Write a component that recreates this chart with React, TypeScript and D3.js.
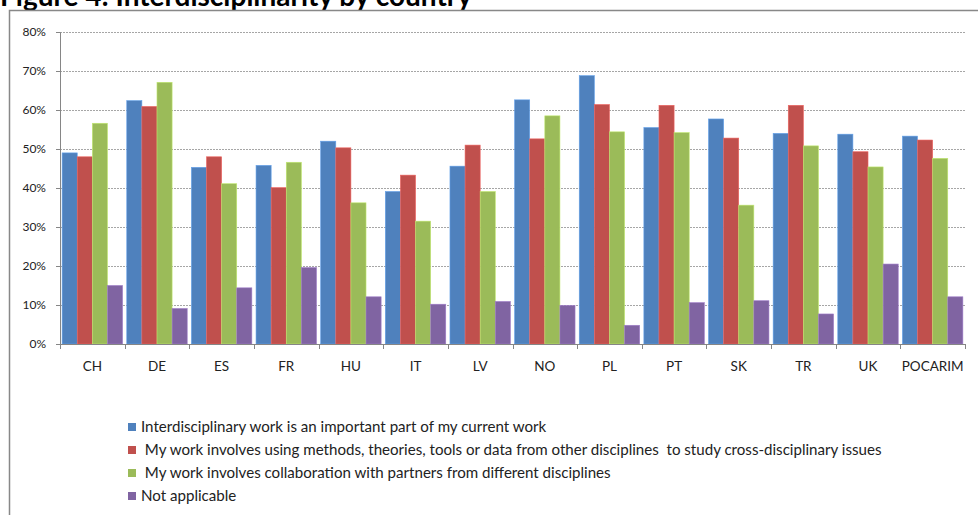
import * as d3 from 'd3';
import { useEffect, useRef } from 'react';

const countries = ['CH', 'DE', 'ES', 'FR', 'HU', 'IT', 'LV', 'NO', 'PL', 'PT', 'SK', 'TR', 'UK', 'POCARIM'];
const important = [49.0, 62.4, 45.3, 45.8, 52.0, 39.1, 45.6, 62.6, 68.8, 55.5, 57.7, 54.0, 53.8, 53.3];
const methods = [48.0, 60.9, 48.0, 40.1, 50.3, 43.3, 51.0, 52.6, 61.4, 61.2, 52.8, 61.2, 49.3, 52.3];
const collaboration = [56.6, 67.1, 41.1, 46.6, 36.2, 31.5, 39.1, 58.5, 54.4, 54.2, 35.6, 50.8, 45.4, 47.6];
const notApplicable = [15.0, 9.1, 14.4, 19.6, 12.1, 10.2, 10.9, 9.9, 4.8, 10.6, 11.1, 7.7, 20.5, 12.1];
const yTicks = [0, 10, 20, 30, 40, 50, 60, 70, 80];
const seriesNames = [
  'Interdisciplinary work is an important part of my current work',
  ' My work involves using methods, theories, tools or data from other disciplines  to study cross-disciplinary issues',
  ' My work involves collaboration with partners from different disciplines',
  'Not applicable',
];
const colors = ['#4F81BD', '#C0504D', '#9BBB59', '#8064A2'];

const W = 978, H = 515;
const font = 'Lato, Carlito, Calibri, sans-serif';

export default function App() {
  const ref = useRef<SVGSVGElement>(null);

  useEffect(() => {
    const svg = d3.select(ref.current);
    svg.selectAll('*').remove();

    const series = [important, methods, collaboration, notApplicable];
    const left = 60, right = 965, top = 32, bottom = 344;

    const x0 = d3.scaleBand().domain(countries).range([left, right]).paddingInner(0.065).paddingOuter(0.033);
    const x1 = d3.scaleBand().domain(d3.range(4).map(String)).range([0, x0.bandwidth()]);
    const y = d3.scaleLinear().domain([0, 80]).range([bottom, top]);

    // title, cut off at the top as in the source page
    svg.append('text')
      .attr('x', 0).attr('y', 6)
      .style('font-family', font).style('font-weight', 'bold').style('font-size', '28px')
      .text('Figure 4: Interdisciplinarity by country');

    // chart frame
    svg.append('rect')
      .attr('x', 9.5).attr('y', 10.5).attr('width', 980).attr('height', 520)
      .attr('fill', 'none').attr('stroke', '#888').attr('stroke-width', 1.5);

    // gridlines
    svg.append('g').selectAll('line').data(yTicks.slice(1)).join('line')
      .attr('x1', left).attr('x2', right)
      .attr('y1', d => Math.round(y(d)) + 0.5).attr('y2', d => Math.round(y(d)) + 0.5)
      .attr('stroke', '#a6a6a6').attr('stroke-dasharray', '2,1');

    // bars
    const groups = svg.append('g').selectAll('g').data(countries).join('g')
      .attr('transform', d => `translate(${x0(d)},0)`);
    groups.selectAll('rect')
      .data((_, i) => series.map((s, k) => ({ k, v: s[i] })))
      .join('rect')
      .attr('x', d => x1(String(d.k))!)
      .attr('width', x1.bandwidth())
      .attr('y', d => y(d.v))
      .attr('height', d => bottom - y(d.v))
      .attr('fill', d => colors[d.k])
      .attr('stroke', d => d3.color(colors[d.k])!.brighter(0.6).formatHex())
      .attr('stroke-width', 0.6);

    // y axis
    const yAxis = svg.append('g').attr('transform', `translate(${left},0)`)
      .call(d3.axisLeft(y).tickValues(yTicks).tickFormat(d => `${d}%`).tickSize(4).tickPadding(10));
    yAxis.select('.domain').attr('stroke', '#868686');
    yAxis.selectAll('line').attr('stroke', '#868686');
    yAxis.selectAll('text').style('font-family', font).style('font-size', '12px').attr('fill', '#222');

    // x axis
    const xAxis = svg.append('g').attr('transform', `translate(0,${bottom})`);
    xAxis.append('line').attr('x1', left).attr('x2', right).attr('y1', 0.5).attr('y2', 0.5).attr('stroke', '#868686');
    const bounds = d3.range(countries.length + 1).map(i => left + (i * (right - left)) / countries.length);
    xAxis.selectAll('line.tk').data(bounds).join('line').attr('class', 'tk')
      .attr('x1', d => Math.round(d) + 0.5).attr('x2', d => Math.round(d) + 0.5)
      .attr('y1', 0).attr('y2', 5).attr('stroke', '#868686');
    xAxis.selectAll('text').data(countries).join('text')
      .attr('x', d => x0(d)! + x0.bandwidth() / 2).attr('y', 27)
      .attr('text-anchor', 'middle')
      .style('font-family', font).style('font-size', '13.5px').attr('fill', '#222')
      .text(d => d);

    // legend
    const leg = svg.append('g').selectAll('g').data(seriesNames).join('g')
      .attr('transform', (_, i) => `translate(128,${423 + i * 23})`);
    leg.append('rect').attr('width', 8).attr('height', 8).attr('fill', (_, i) => colors[i]);
    leg.append('text').attr('x', 13).attr('y', 8.5)
      .style('font-family', font).style('font-size', '15.1px').style('white-space', 'pre').attr('fill', '#222')
      .text(d => d);
  }, []);

  return (
    <svg ref={ref} width={W} height={H}
      style={{ position: 'absolute', left: 0, top: 0, background: '#fff' }} />
  );
}
